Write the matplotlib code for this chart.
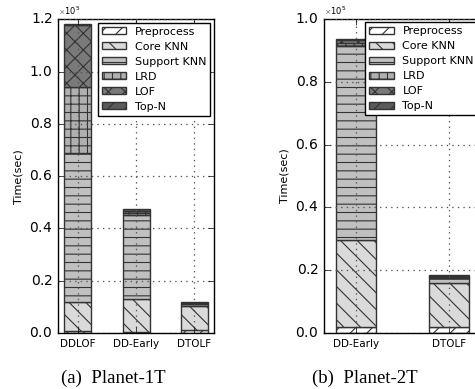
import numpy as np
import matplotlib
matplotlib.use('Agg')
import matplotlib.pyplot as plt

plt.style.use('classic')
plt.rcParams['axes.formatter.use_mathtext'] = True
plt.rcParams['axes.formatter.limits'] = (-3, 4)
plt.rcParams['hatch.linewidth'] = 0.8
plt.rcParams['grid.color'] = '#555555'
plt.rcParams['grid.linestyle'] = ':'
plt.rcParams['grid.linewidth'] = 0.9

stages = ['Preprocess', 'Core KNN', 'Support KNN', 'LRD', 'LOF', 'Top-N']
colors = ['white', '#dadada', '#c0c0c0', '#b0b0b0', '#7a7a7a', '#5a5a5a']
hatches = ['//', '\\\\', '--', '++', 'xx', '//']

# panel (a) Planet-1T, seconds
methods_1t = ['DDLOF', 'DD-Early', 'DTOLF']
times_1t = {
    'Preprocess':  [800, 500, 1000],
    'Core KNN':    [11200, 12400, 9500],
    'Support KNN': [56800, 32300, 500],
    'LRD':         [25200, 800, 200],
    'LOF':         [24000, 700, 200],
    'Top-N':       [300, 600, 300],
}

# panel (b) Planet-2T, seconds
methods_2t = ['DD-Early', 'DTOLF']
times_2t = {
    'Preprocess':  [2000, 2000],
    'Core KNN':    [27500, 13800],
    'Support KNN': [62000, 1600],
    'LRD':         [1000, 400],
    'LOF':         [700, 300],
    'Top-N':       [400, 400],
}


def draw(ax, methods, times, width):
    x = np.arange(len(methods))
    bottom = np.zeros(len(methods))
    for s, c, h in zip(stages, colors, hatches):
        v = np.array(times[s], float)
        ax.bar(x, v, width, bottom=bottom, color=c, hatch=h,
               edgecolor='#333333', linewidth=1.0, align='center', label=s)
        bottom += v
    ax.set_xticks(x)
    ax.set_xticklabels(methods, fontsize=7.5)
    ax.tick_params(axis='y', labelsize=10)
    ax.set_ylabel('Time(sec)', fontsize=8, labelpad=4)
    ax.grid(True)
    ax.yaxis.get_offset_text().set_fontsize(6)
    ax.legend(loc='upper right', fontsize=8, handlelength=2.2, handleheight=0.6,
              borderaxespad=0.3, labelspacing=0.45, handletextpad=0.8,
              borderpad=0.35, fancybox=False)


fig = plt.figure(figsize=(4.75, 3.89), dpi=100)
fig.patch.set_facecolor('white')

ax1 = fig.add_axes([0.122, 0.144, 0.328, 0.806])
draw(ax1, methods_1t, times_1t, 0.46)
ax1.set_xlim(-0.34, 2.33)
ax1.set_ylim(0, 120000)
ax1.set_yticks(np.arange(0, 120001, 20000))

ax2 = fig.add_axes([0.682, 0.144, 0.331, 0.807])
draw(ax2, methods_2t, times_2t, 0.43)
ax2.set_xlim(-0.34, 1.34)
ax2.set_ylim(0, 100000)
ax2.set_yticks(np.arange(0, 100001, 20000))

fig.text(0.238, 0.028, '(a)  Planet-1T', ha='center', va='center',
         fontsize=13.5, family='Liberation Serif')
fig.text(0.768, 0.028, '(b)  Planet-2T', ha='center', va='center',
         fontsize=13.5, family='Liberation Serif')

fig.savefig('out.png', dpi=100, facecolor='white')
